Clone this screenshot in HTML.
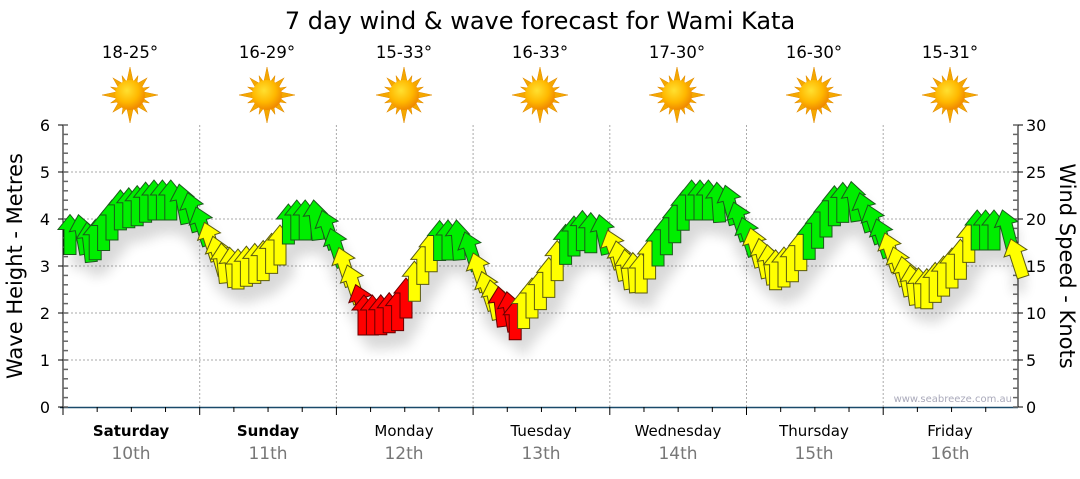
<!DOCTYPE html>
<html><head><meta charset="utf-8"><style>
html,body{margin:0;padding:0;background:#fff;}
body{width:1080px;height:475px;overflow:hidden;font-family:"DejaVu Sans","Liberation Sans",sans-serif;}
</style></head><body>
<svg id="s" width="1080" height="475" xmlns="http://www.w3.org/2000/svg" font-family="DejaVu Sans, Liberation Sans, sans-serif">
<defs>
<radialGradient id="sg" cx="40%" cy="35%" r="65%"><stop offset="0" stop-color="#ffe030"/><stop offset="0.6" stop-color="#ffb800"/><stop offset="1" stop-color="#f08a00"/></radialGradient>
<filter id="sh" x="-20%" y="-20%" width="140%" height="160%"><feGaussianBlur stdDeviation="6"/></filter>
<g id="sun">
<g fill="#f5a800" stroke="#e08a00" stroke-width="0.5">
<polygon points="0,-28 3,-14 -3,-14"/><polygon points="0,28 3,14 -3,14"/><polygon points="-28,0 -14,3 -14,-3"/><polygon points="28,0 14,3 14,-3"/>
<g transform="rotate(45)"><polygon points="0,-24 3,-13 -3,-13"/><polygon points="0,24 3,13 -3,13"/><polygon points="-24,0 -13,3 -13,-3"/><polygon points="24,0 13,3 13,-3"/></g>
<g transform="rotate(22.5)"><polygon points="0,-21 2,-13 -2,-13"/><polygon points="0,21 2,13 -2,13"/><polygon points="-21,0 -13,2 -13,-2"/><polygon points="21,0 13,2 13,-2"/></g>
<g transform="rotate(67.5)"><polygon points="0,-21 2,-13 -2,-13"/><polygon points="0,21 2,13 -2,13"/><polygon points="-21,0 -13,2 -13,-2"/><polygon points="21,0 13,2 13,-2"/></g>
</g>
<circle r="15" fill="url(#sg)"/>
</g>
</defs>
<text x="540" y="29" font-size="24" text-anchor="middle" fill="#000">7 day wind &amp; wave forecast for Wami Kata</text>
<g font-size="16.5" text-anchor="middle" fill="#000">
<text x="130" y="58">18-25°</text><text x="267" y="58">16-29°</text><text x="404" y="58">15-33°</text><text x="540" y="58">16-33°</text><text x="677" y="58">17-30°</text><text x="814" y="58">16-30°</text><text x="950" y="58">15-31°</text>
</g>
<use href="#sun" x="130" y="95"/><use href="#sun" x="267" y="95"/><use href="#sun" x="404" y="95"/><use href="#sun" x="540" y="95"/><use href="#sun" x="677" y="95"/><use href="#sun" x="814" y="95"/><use href="#sun" x="950" y="95"/>
<g id="grid" stroke="#aaa" stroke-width="1" stroke-dasharray="2,2"></g>
<g id="ax"></g>
<g id="shad" filter="url(#sh)" opacity="0.15"></g>
<g id="arr" stroke-width="1"></g>
<text x="1012" y="402" font-size="10" fill="#aab" text-anchor="end">www.seabreeze.com.au</text>
<text transform="translate(22,266) rotate(-90)" font-size="21" text-anchor="middle">Wave Height - Metres</text>
<text transform="translate(1060,266) rotate(90)" font-size="21" text-anchor="middle">Wind Speed - Knots</text>
<g font-size="15" text-anchor="middle">
<text x="131" y="436" font-weight="bold">Saturday</text><text x="268" y="436" font-weight="bold">Sunday</text><text x="404" y="436">Monday</text><text x="541" y="436">Tuesday</text><text x="678" y="436">Wednesday</text><text x="814" y="436">Thursday</text><text x="950" y="436">Friday</text>
</g>
<g font-size="17" text-anchor="middle" fill="#777">
<text x="131" y="459">10th</text><text x="268" y="459">11th</text><text x="404" y="459">12th</text><text x="541" y="459">13th</text><text x="678" y="459">14th</text><text x="814" y="459">15th</text><text x="950" y="459">16th</text>
</g>
</svg>
<script>
var NS="http://www.w3.org/2000/svg";
function el(p,t,a,txt){var e=document.createElementNS(NS,t);for(var k in a)e.setAttribute(k,a[k]);if(txt!=null)e.textContent=txt;document.getElementById(p).appendChild(e);return e;}
var L=63,R=1018,T=125,B=407,U=47;
for(var i=1;i<6;i++){var y=B-i*U;el('grid','line',{x1:L,x2:R,y1:y,y2:y});}
for(var d=1;d<7;d++){var x=L+d*136.7;el('grid','line',{x1:x,x2:x,y1:T,y2:B});}
el('ax','line',{x1:L,x2:L,y1:T,y2:B,stroke:'#000'});
el('ax','line',{x1:R,x2:R,y1:T,y2:B,stroke:'#000'});
el('ax','line',{x1:L-3,x2:R,y1:B+0.5,y2:B+0.5,stroke:'#1a4a6a','stroke-width':1.5});
for(var i=0;i<=30;i++){var y=B-i*U/5;var maj=i%5==0;
 el('ax','line',{x1:L,x2:L+5,y1:y,y2:y,stroke:'#666','stroke-width':1.5});
 el('ax','line',{x1:R,x2:R-5,y1:y,y2:y,stroke:'#666','stroke-width':1.5});
 if(maj){el('ax','line',{x1:L-5,x2:L,y1:y,y2:y,stroke:'#000'});el('ax','line',{x1:R,x2:R+5,y1:y,y2:y,stroke:'#000'});
  el('ax','text',{x:50,y:y+6,'font-size':16,'text-anchor':'end'},String(i/5));
  el('ax','text',{x:1026,y:y+6,'font-size':16},String(i));}
}
for(var k=0;k<=28;k++){var x=L+k*136.7/4;if(x>R)break;el('ax','line',{x1:x,x2:x,y1:B,y2:B+(k%4==0?8:5),stroke:'#000'});}
var pts=[[63,225],[73,210],[90,225],[100,215],[120,190],[140,185],[150,180],[175,180],[190,195],[200,215],[215,240],[235,250],[250,245],[265,240],[280,225],[290,200],[315,200],[325,215],[335,240],[345,260],[360,295],[380,295],[400,290],[410,270],[425,240],[440,220],[460,220],[470,245],[480,270],[495,285],[505,290],[515,300],[530,280],[545,265],[555,245],[565,225],[580,210],[600,215],[610,235],[625,250],[640,255],[655,230],[670,210],[690,180],[710,180],[725,185],[740,215],[760,240],[775,250],[790,245],[805,225],[820,205],[835,185],[850,180],[865,200],[880,225],[895,250],[910,265],[925,270],[945,255],[960,240],[975,210],[1005,210],[1012,245]];
function f(x){for(var i=0;i<pts.length-1;i++){if(x<=pts[i+1][0]){var a=pts[i],b=pts[i+1];return a[1]+(b[1]-a[1])*(x-a[0])/(b[0]-a[0]);}}return pts[pts.length-1][1];}
function col(x){var g=[[63,202],[285,332],[433,466],[563,602],[653,747],[803,880],[973,1010]],r=[[352,412],[492,522]];
 for(var i=0;i<r.length;i++)if(x>=r[i][0]&&x<=r[i][1])return['#ff0000','#600'];
 for(var i=0;i<g.length;i++)if(x>=g[i][0]&&x<=g[i][1])return['#00ee00','#1a5a1a'];
 return['#ffff00','#5a5a10'];}
var P="M0,0 L12,15 L6,15 L6,40 L-6,40 L-6,15 L-12,15 Z";
for(var x=70;x<=1014;x+=8.4){var y=f(x);var sl=(f(x+5)-f(x-5))/10;var ang=sl>0.3?-Math.min(18,sl*12):0;var c=col(x);
 var tr='translate('+x.toFixed(1)+','+y.toFixed(1)+') rotate('+ang.toFixed(1)+')';
 el('shad','path',{d:P,transform:'translate('+(x+8).toFixed(1)+','+(y+14).toFixed(1)+')',fill:'#000'});
 el('arr','path',{d:P,transform:tr,fill:c[0],stroke:c[1]});}
</script>
</body></html>
